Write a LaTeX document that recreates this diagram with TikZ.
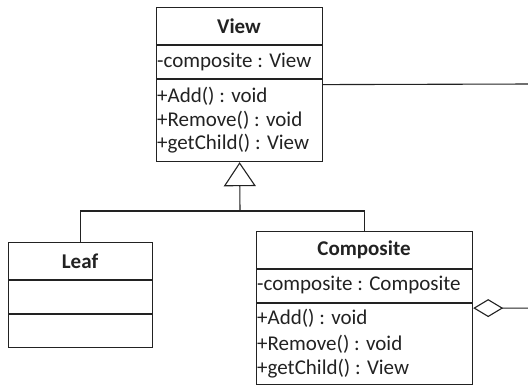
\documentclass[tikz,border=0pt]{standalone}
\usepackage{fontspec}
\setmainfont{Carlito}
\usetikzlibrary{arrows.meta}
\definecolor{ink}{HTML}{222222}
\begin{document}
\begin{tikzpicture}[x=1pt,y=-1pt,
  classbox/.style={draw=ink,line width=1.2pt,inner sep=0pt,anchor=north west},
  sepline/.style={draw=ink,line width=1.2pt},
  title/.style={text=ink,font=\fontsize{21}{23}\selectfont\bfseries,inner sep=0pt},
  member/.style={text=ink,font=\fontsize{21}{23}\selectfont,inner sep=0pt,anchor=west},
  conn/.style={draw=ink,line width=1.1pt},
  inherit/.style={conn,-{Triangle[open,length=24pt,width=32pt,line width=1.1pt]}},
  aggr/.style={conn,-{Diamond[open,length=30pt,width=18pt,line width=1.1pt]}}
]
\useasboundingbox (0,0) rectangle (528,387);
\clip (0,0) rectangle (528,387);
% View
\node[classbox,minimum width=166pt,minimum height=154pt] (view) at (156,7) {};
\draw[sepline] (156,45) -- (322,45) (156,79) -- (322,79);
\node[title] (viewt) at (239,26) {View};
\node[member] (viewa) at (157,62) {-composite : View};
\node[member] (viewm1) at (157,96) {+Add() : void};
\node[member] (viewm2) at (157,120) {+Remove() : void};
\node[member] (viewm3) at (157,144) {+getChild() : View};
% Leaf
\node[classbox,minimum width=144pt,minimum height=105pt] (leaf) at (8,242) {};
\draw[sepline] (8,280) -- (152,280) (8,314) -- (152,314);
\node[title] (leaft) at (80,261) {Leaf};
% Composite
\node[classbox,minimum width=216pt,minimum height=153pt] (comp) at (256,231) {};
\draw[sepline] (256,269) -- (472,269) (256,303) -- (472,303);
\node[title] (compt) at (364,250) {Composite};
\node[member] (compa) at (257,285) {-composite : Composite};
\node[member] (compm1) at (257,318) {+Add() : void};
\node[member] (compm2) at (257,344) {+Remove() : void};
\node[member] (compm3) at (257,369) {+getChild() : View};
% connectors
\coordinate (join) at (240,211);
\coordinate (corner) at (534,84);
\draw[conn] (leaf.north) |- (join);
\draw[conn] (comp.north) |- (join);
\draw[inherit] (join) -- (view.south);
\draw[aggr] (view.east) -- (corner) |- (comp.east);
\end{tikzpicture}
\end{document}
